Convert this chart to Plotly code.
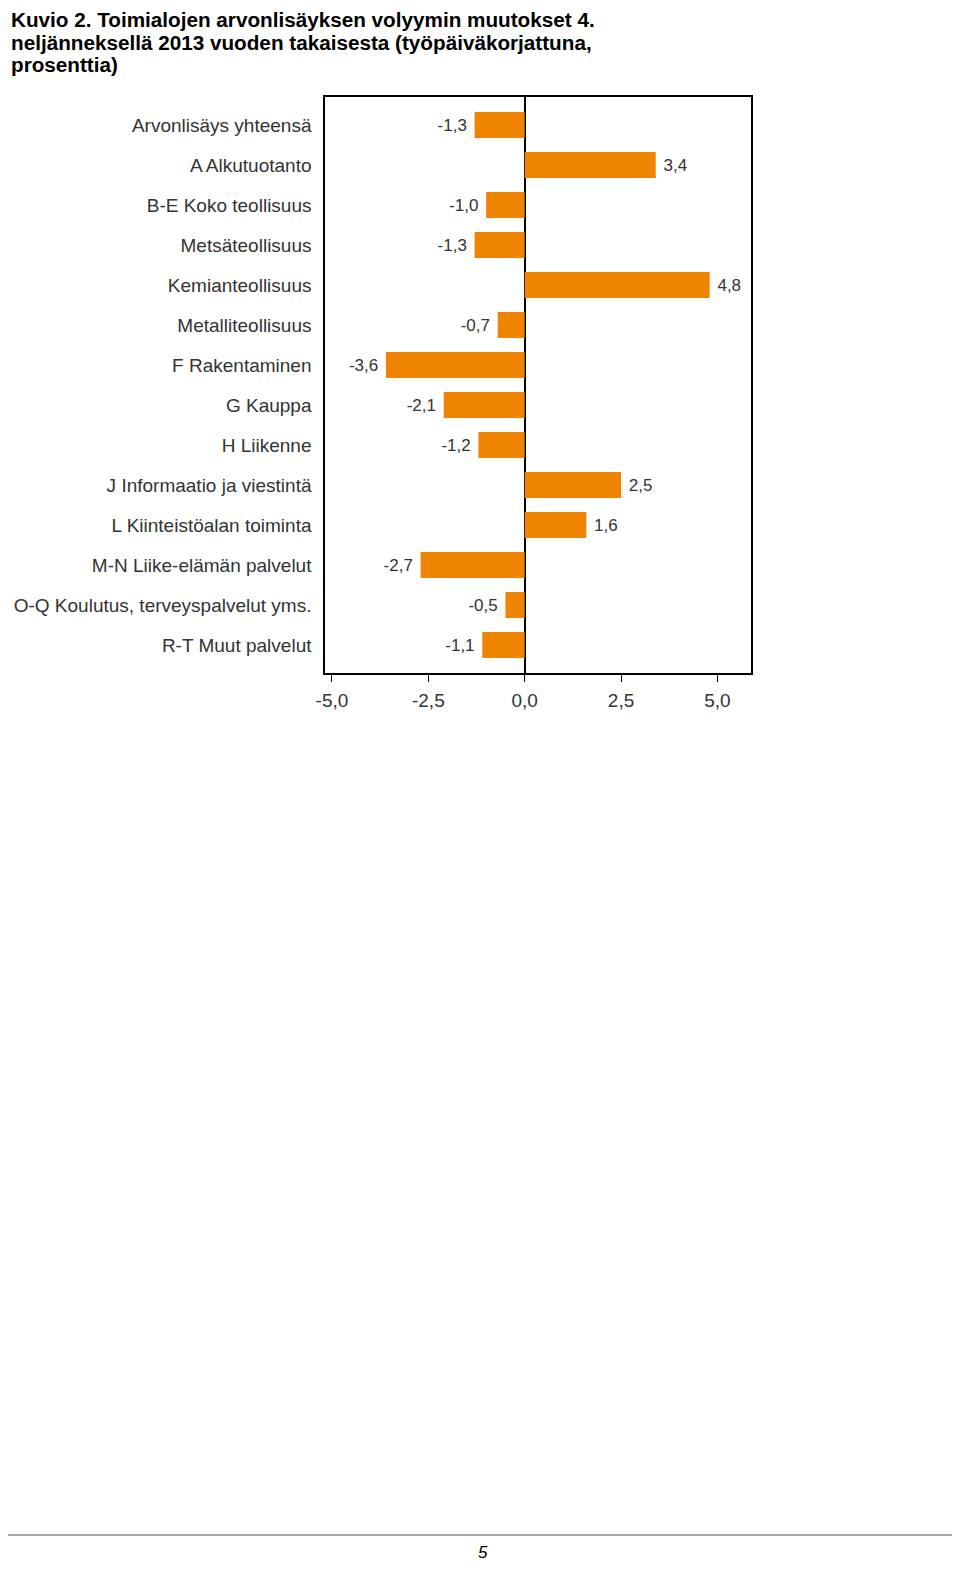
import plotly.graph_objects as go

categories = [
    "Arvonlisäys yhteensä",
    "A Alkutuotanto",
    "B-E Koko teollisuus",
    "Metsäteollisuus",
    "Kemianteollisuus",
    "Metalliteollisuus",
    "F Rakentaminen",
    "G Kauppa",
    "H Liikenne",
    "J Informaatio ja viestintä",
    "L Kiinteistöalan toiminta",
    "M-N Liike-elämän palvelut",
    "O-Q Koulutus, terveyspalvelut yms.",
    "R-T Muut palvelut",
]
values = [-1.3, 3.4, -1.0, -1.3, 4.8, -0.7, -3.6, -2.1, -1.2, 2.5, 1.6, -2.7, -0.5, -1.1]
tick_vals = [-5.0, -2.5, 0.0, 2.5, 5.0]
tick_text = ["-5,0", "-2,5", "0,0", "2,5", "5,0"]
title_lines = [
    "Kuvio 2. Toimialojen arvonlisäyksen volyymin muutokset 4.",
    "neljänneksellä 2013 vuoden takaisesta (työpäiväkorjattuna,",
    "prosenttia)",
]

# the page body has an 8px margin; keep the figure inside the window
OFF = 8
W, H = 960 - 2 * OFF, 1572 - 2 * OFF
font = "Liberation Sans, Arial, sans-serif"


def px(x):
    return (x - OFF) / W


def py(y):
    return 1 - (y - OFF) / H


def label(v):
    s = f"{v:.1f}".replace(".", ",")
    return s + "\u00a0" if v < 0 else "\u00a0" + s


fig = go.Figure()
fig.add_trace(go.Bar(
    y=categories, x=values, orientation="h",
    marker=dict(color="#EE8400", line=dict(width=0)),
    width=0.65,
    text=[label(v) for v in values],
    textposition="outside",
    textfont=dict(family=font, size=17, color="#333333"),
    cliponaxis=False,
))

fig.update_layout(
    width=W, height=H,
    margin=dict(l=0, r=0, t=0, b=0),
    plot_bgcolor="white", paper_bgcolor="white",
    showlegend=False,
    font=dict(family=font, color="#333333"),
    xaxis=dict(
        domain=[px(319), px(749)],
        range=[-5.18, 5.87],
        tickvals=tick_vals, ticktext=tick_text,
        ticks="outside", ticklen=7, tickcolor="black", tickwidth=1,
        tickfont=dict(size=19, color="#333333"),
        showgrid=False,
        showline=True, linecolor="black", linewidth=1.5, mirror=True,
        zeroline=True, zerolinecolor="black", zerolinewidth=2,
        ticklabelstandoff=2,
    ),
    yaxis=dict(
        domain=[py(673), py(97)],
        categoryorder="array", categoryarray=categories,
        autorange=False, range=[13.7, -0.7],
        tickfont=dict(size=19, color="#333333"),
        showgrid=False, ticks="",
        showline=True, linecolor="black", linewidth=1.5, mirror=True,
        ticklabelstandoff=8,
    ),
)

for i, line in enumerate(title_lines):
    fig.add_annotation(
        x=px(0), y=py(20 + 22 * i), xref="paper", yref="paper",
        xanchor="left", yanchor="middle", showarrow=False,
        text=f"<b>{line}</b>",
        font=dict(family=font, size=20.7, color="black"),
    )

# page footer rule and page number
fig.add_shape(type="line", xref="paper", yref="paper",
              x0=px(-9), x1=px(957), y0=py(1535), y1=py(1535),
              line=dict(color="#888888", width=1.5))
fig.add_annotation(
    x=px(478), y=0, xref="paper", yref="paper",
    xanchor="center", yanchor="bottom", showarrow=False,
    text="<i>5</i>",
    font=dict(family=font, size=17, color="black"),
)

fig.write_html("out.html")
